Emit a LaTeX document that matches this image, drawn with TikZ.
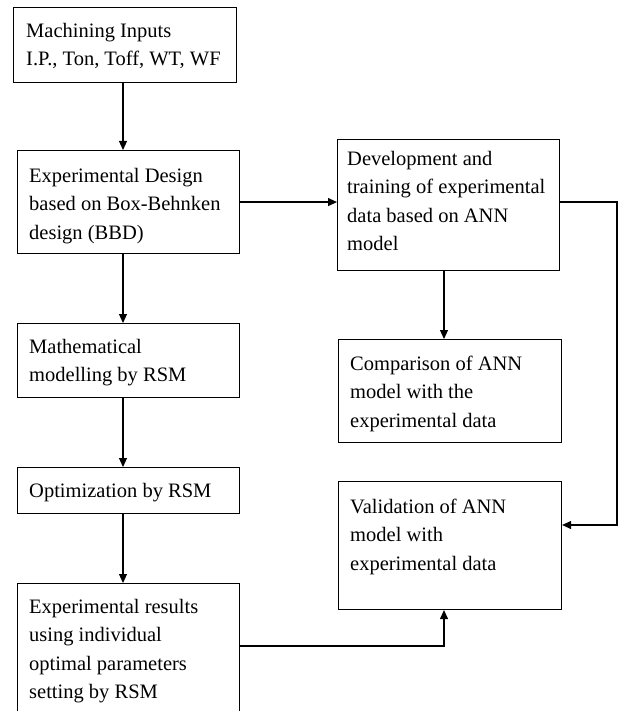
\documentclass[tikz,border=0pt]{standalone}
\usepackage{fontspec}
\setmainfont{Liberation Serif}
\usetikzlibrary{arrows.meta,calc}
\begin{document}
\begin{tikzpicture}[x=1pt,y=-1pt,
  box/.style={draw, line width=1.1pt, rectangle, inner sep=0pt, anchor=north west},
  txt/.style={anchor=north west, inner sep=0pt, align=left, font=\fontsize{20.5}{28.3}\selectfont},
  ln/.style={line width=1.1pt},
  arr/.style={line width=1.1pt, -{Triangle[length=9pt,width=8pt]}}]
\useasboundingbox (0,0) rectangle (621,711);
% boxes
\node[box, minimum width=223pt, minimum height=75pt]  (b1) at (13,7) {};
\node[box, minimum width=222pt, minimum height=103pt] (b2) at (17,150) {};
\node[box, minimum width=222pt, minimum height=131pt] (b3) at (337,139) {};
\node[box, minimum width=222pt, minimum height=74pt]  (b4) at (17,323) {};
\node[box, minimum width=223pt, minimum height=103pt] (b5) at (338,339) {};
\node[box, minimum width=222pt, minimum height=46pt]  (b6) at (17,467) {};
\node[box, minimum width=223pt, minimum height=128pt] (b7) at (338,481) {};
\node[box, minimum width=222pt, minimum height=135pt] (b8) at (17,583) {};
% texts
\node[txt] (t1) at ($(b1.north west)+(13,16)$) {Machining Inputs\\I.P., Ton, Toff, WT, WF};
\node[txt] (t2) at ($(b2.north west)+(12,18)$) {Experimental Design\\based on Box-Behnken\\design (BBD)};
\node[txt] (t3) at ($(b3.north west)+(10,12)$) {Development and\\training of experimental\\data based on ANN\\model};
\node[txt] (t4) at ($(b4.north west)+(12,16)$) {Mathematical\\modelling by RSM};
\node[txt] (t5) at ($(b5.north west)+(12,17)$) {Comparison of ANN\\model with the\\experimental data};
\node[txt] (t6) at ($(b6.north west)+(12,16)$) {Optimization by RSM};
\node[txt] (t7) at ($(b7.north west)+(12,18)$) {Validation of ANN\\model with\\experimental data};
\node[txt] (t8) at ($(b8.north west)+(12,16)$) {Experimental results\\using individual\\optimal parameters\\setting by RSM};
% helper coordinates
\coordinate (lx) at (123,0);
\coordinate (rx) at (444,0);
\coordinate (fx) at (617,0);
\coordinate (vy) at (0,525);
\coordinate (hy) at (0,646);
% connectors
\draw[arr] (b1.south -| lx) -- (b2.north -| lx);
\draw[arr] (b2.south -| lx) -- (b4.north -| lx);
\draw[arr] (b4.south -| lx) -- (b6.north -| lx);
\draw[arr] (b6.south -| lx) -- (b8.north -| lx);
\draw[arr] (b2.east) -- (b3.west |- b2.east);
\draw[arr] (b3.south -| rx) -- (b5.north -| rx);
\draw[arr] ($(b3.east)+(0,-3)$) -| (fx |- vy) -- (b7.east |- vy);
\draw[arr] (b8.east |- hy) -| (b7.south -| rx);
\end{tikzpicture}
\end{document}
